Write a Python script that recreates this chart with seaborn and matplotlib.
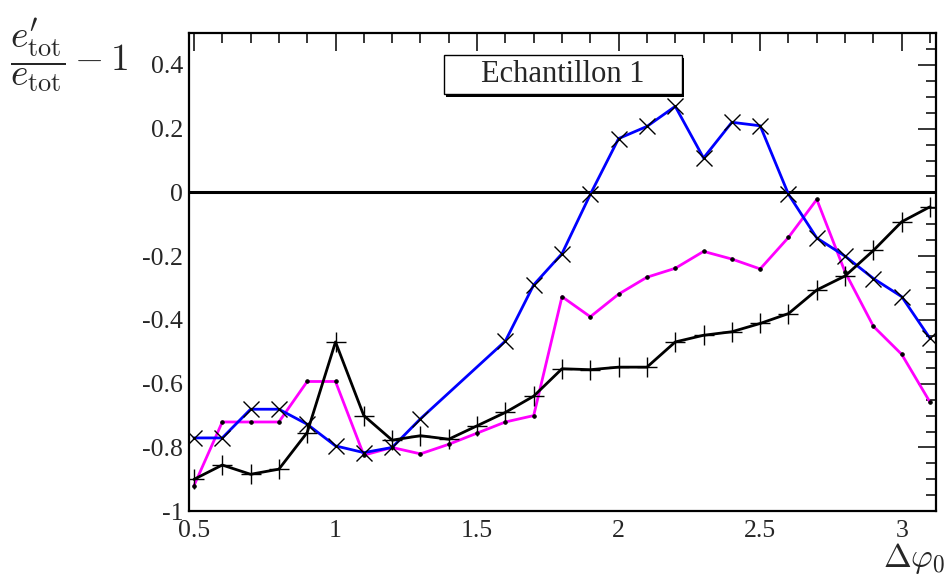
import numpy as np
import pandas as pd
import matplotlib
matplotlib.use("Agg")
import matplotlib.pyplot as plt
import seaborn as sns
from matplotlib.patches import Rectangle
from matplotlib.ticker import MultipleLocator, FixedLocator

# ---------------- data ----------------
x_all = [0.5, 0.6, 0.7, 0.8, 0.9, 1.0, 1.1, 1.2, 1.3, 1.4, 1.5, 1.6, 1.7, 1.8,
         1.9, 2.0, 2.1, 2.2, 2.3, 2.4, 2.5, 2.6, 2.7, 2.8, 2.9, 3.0, 3.1]

x_blue = [0.5, 0.6, 0.7, 0.8, 0.9, 1.0, 1.1, 1.2, 1.3, 1.6, 1.7, 1.8,
          1.9, 2.0, 2.1, 2.2, 2.3, 2.4, 2.5, 2.6, 2.7, 2.8, 2.9, 3.0, 3.1]
y_blue = [-0.77, -0.77, -0.68, -0.68, -0.727, -0.795, -0.816, -0.80, -0.71,
          -0.466, -0.29, -0.192, -0.006, 0.169, 0.207, 0.27, 0.108, 0.22,
          0.209, -0.006, -0.143, -0.20, -0.27, -0.327, -0.458]

y_magenta = [-0.92, -0.72, -0.72, -0.72, -0.593, -0.593, -0.824, -0.80, -0.82,
             -0.79, -0.755, -0.72, -0.70, -0.327, -0.39, -0.319, -0.266,
             -0.238, -0.185, -0.209, -0.24, -0.141, -0.022, -0.25, -0.42,
             -0.508, -0.658]

y_black = [-0.90, -0.855, -0.884, -0.868, -0.753, -0.469, -0.70, -0.777,
           -0.763, -0.774, -0.732, -0.69, -0.639, -0.553, -0.556, -0.548,
           -0.548, -0.469, -0.448, -0.437, -0.411, -0.38, -0.306, -0.262,
           -0.182, -0.092, -0.045]

x_ticks = [0.5, 1.0, 1.5, 2.0, 2.5, 3.0]
x_ticklabels = ["0.5", "1", "1.5", "2", "2.5", "3"]
y_ticks = [-1.0, -0.8, -0.6, -0.4, -0.2, 0.0, 0.2, 0.4]
y_ticklabels = ["-1", "-0.8", "-0.6", "-0.4", "-0.2", "0", "0.2", "0.4"]
legend_text = "Echantillon 1"

df_blue = pd.DataFrame({"x": x_blue, "y": y_blue})
df_mag = pd.DataFrame({"x": x_all, "y": y_magenta})
df_blk = pd.DataFrame({"x": x_all, "y": y_black})

# ---------------- style ----------------
sns.set_theme(style="white")
plt.rcParams["font.family"] = ["Liberation Serif", "DejaVu Serif"]
plt.rcParams["mathtext.fontset"] = "cm"

fig = plt.figure(figsize=(9.49, 5.79), dpi=100)
ax = fig.add_axes([0.199, 0.117, 0.787, 0.826])

ax.axhline(0, color="black", lw=2.2, zorder=1)

sns.lineplot(data=df_blue, x="x", y="y", ax=ax, color="#0000ff", lw=2.0,
             marker="x", markersize=12, markeredgecolor="black",
             markeredgewidth=1.0, zorder=3)
sns.lineplot(data=df_mag, x="x", y="y", ax=ax, color="#ff00ff", lw=2.0,
             marker="o", markersize=2.5, markeredgecolor="black",
             markerfacecolor="black", zorder=2)
sns.lineplot(data=df_blk, x="x", y="y", ax=ax, color="black", lw=2.0,
             marker="+", markersize=14, markeredgecolor="black",
             markeredgewidth=1.0, zorder=4)

ax.set_xlim(0.482, 3.12)
ax.set_ylim(-1.0, 0.5)

ax.xaxis.set_major_locator(FixedLocator(x_ticks))
ax.set_xticklabels(x_ticklabels)
ax.xaxis.set_minor_locator(MultipleLocator(0.1))
ax.yaxis.set_major_locator(FixedLocator(y_ticks))
ax.set_yticklabels(y_ticklabels)
ax.yaxis.set_minor_locator(MultipleLocator(0.05))

ax.tick_params(which="both", direction="in", top=True, right=True,
               labelsize=18.5, color="black", width=1.1)
ax.tick_params(which="major", length=13)
ax.tick_params(axis="x", which="major", pad=6)
ax.tick_params(axis="y", which="major", pad=4)
ax.tick_params(which="minor", length=7)
for s in ax.spines.values():
    s.set_color("black")
    s.set_linewidth(1.6)

ax.set_xlabel("")
ax.set_ylabel("")

# legend box with shadow
bx, by, bw, bh = 0.341, 0.872, 0.319, 0.082
ax.add_patch(Rectangle((bx + 0.0035, by - 0.006), bw, bh, transform=ax.transAxes,
                       facecolor="black", edgecolor="none", zorder=5,
                       clip_on=False))
ax.add_patch(Rectangle((bx, by), bw, bh, transform=ax.transAxes,
                       facecolor="white", edgecolor="black", lw=1.0, zorder=6,
                       clip_on=False))
ax.text(bx + bw / 2, by + bh / 2, legend_text, transform=ax.transAxes,
        ha="center", va="center", fontsize=22, zorder=7)

fig.text(0.011, 0.905, r"$\dfrac{e^{\prime}_{\mathrm{tot}}}{e_{\mathrm{tot}}} - 1$",
         ha="left", va="center", fontsize=27)
fig.text(0.996, 0.006, r"$\Delta\varphi_0$", ha="right", va="bottom",
         fontsize=24)

fig.savefig("out.png", dpi=100)
